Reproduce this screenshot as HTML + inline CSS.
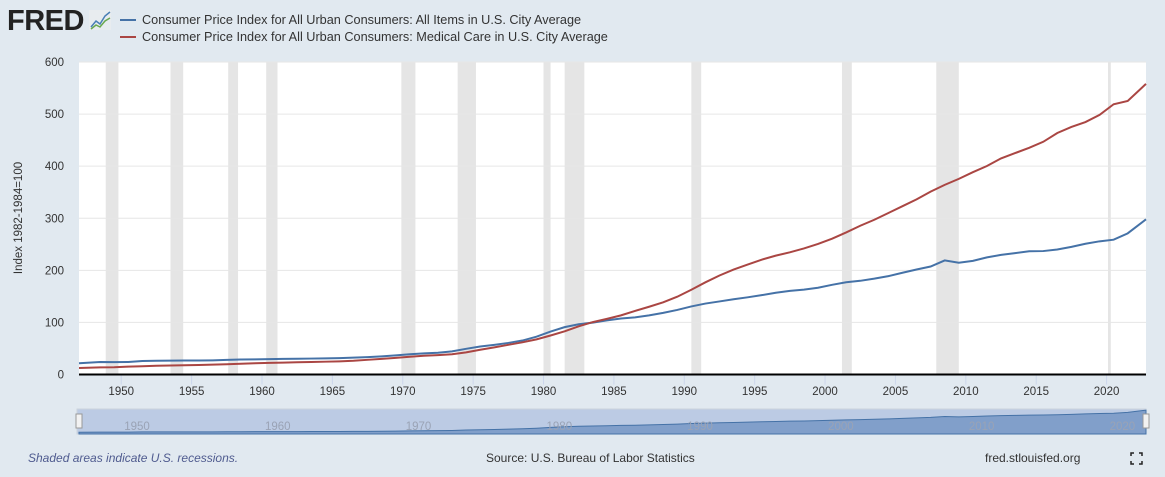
<!DOCTYPE html>
<html><head><meta charset="utf-8">
<style>
body{margin:0;width:1165px;height:477px;background:#e1e9f0;font-family:"Liberation Sans",sans-serif;overflow:hidden}
svg{position:absolute;left:0;top:0}
</style></head><body>
<svg width="1165" height="477">
<g>
<text x="7" y="30" font-size="29" font-weight="bold" fill="#222" letter-spacing="-0.5">FRED</text>
<rect x="89" y="10" width="22" height="20" fill="#e8ecef"/>
<polyline points="91,27 96,21 100,24 105,16 110,12" fill="none" stroke="#4a7fb5" stroke-width="1.5"/>
<polyline points="91,29 96,25 100,27 105,21 110,18" fill="none" stroke="#6aa84f" stroke-width="1.5"/>
</g>
<g>
<line x1="120" y1="20" x2="136" y2="20" stroke="#4572a7" stroke-width="2"/>
<text x="142" y="24" font-size="12.7" fill="#333">Consumer Price Index for All Urban Consumers: All Items in U.S. City Average</text>
<line x1="120" y1="37" x2="136" y2="37" stroke="#aa4643" stroke-width="2"/>
<text x="142" y="41" font-size="12.7" fill="#333">Consumer Price Index for All Urban Consumers: Medical Care in U.S. City Average</text>
</g>
<rect x="79" y="62" width="1067" height="313" fill="#fff"/>
<g id="rec"></g><g id="grid"></g><g id="series"></g><g id="xaxis"></g><g id="yaxis"></g><g id="nav"></g>
<text transform="translate(22,218) rotate(-90)" text-anchor="middle" font-size="11.5" fill="#333">Index 1982-1984=100</text>
<text x="28" y="462" font-size="12" font-style="italic" fill="#4f5b8f">Shaded areas indicate U.S. recessions.</text>
<text x="486" y="462" font-size="12" fill="#333">Source: U.S. Bureau of Labor Statistics</text>
<text x="985" y="462" font-size="12" fill="#333">fred.stlouisfed.org</text>
<g stroke="#222" stroke-width="1.5" fill="none">
<path d="M1131,456 v-3 h3 M1139,453 h3 v3 M1142,461 v3 h-3 M1134,464 h-3 v-3"/>
</g>
</svg>
<script>
const years=[1947,1948.5,1949.5,1950.5,1951.5,1952.5,1953.5,1954.5,1955.5,1956.5,1957.5,1958.5,1959.5,1960.5,1961.5,1962.5,1963.5,1964.5,1965.5,1966.5,1967.5,1968.5,1969.5,1970.5,1971.5,1972.5,1973.5,1974.5,1975.5,1976.5,1977.5,1978.5,1979.5,1980.5,1981.5,1982.5,1983.5,1984.5,1985.5,1986.5,1987.5,1988.5,1989.5,1990.5,1991.5,1992.5,1993.5,1994.5,1995.5,1996.5,1997.5,1998.5,1999.5,2000.5,2001.5,2002.5,2003.5,2004.5,2005.5,2006.5,2007.5,2008.5,2009.5,2010.5,2011.5,2012.5,2013.5,2014.5,2015.5,2016.5,2017.5,2018.5,2019.5,2020.5,2021.5,2022.8];
const allItems=[21.5,24.0,23.8,24.1,26.0,26.5,26.7,26.9,26.8,27.2,28.1,28.9,29.1,29.6,29.9,30.2,30.6,31.0,31.5,32.4,33.4,34.8,36.7,38.8,40.5,41.8,44.4,49.3,53.8,56.9,60.6,65.2,72.6,82.4,90.9,96.5,99.6,103.9,107.6,109.6,113.6,118.3,124.0,130.7,136.2,140.3,144.5,148.2,152.4,156.9,160.5,163.0,166.6,172.2,177.1,179.9,184.0,188.9,195.3,201.6,207.3,219.0,214.5,218.1,224.9,229.6,233.0,236.7,237.0,240.0,245.1,251.1,255.7,258.8,271.0,298.0];
const medical=[12.5,13.6,14.0,15.1,15.9,16.7,17.3,17.8,18.2,18.9,19.7,20.6,21.5,22.3,22.9,23.5,24.1,24.6,25.2,26.3,28.2,29.9,31.9,34.0,36.1,37.3,38.8,42.4,47.5,52.0,57.0,61.8,67.5,74.9,82.9,92.5,100.6,106.8,113.5,122.0,130.1,138.6,149.3,162.8,177.0,190.1,201.4,211.0,220.5,228.2,234.6,242.1,250.6,260.8,272.8,285.6,297.1,310.1,323.2,336.2,351.1,364.1,375.6,388.4,400.3,414.9,425.1,435.3,446.8,463.7,475.3,484.7,498.4,518.9,525.2,558.0];
const recStart=[1948.9,1953.5,1957.6,1960.3,1969.9,1973.9,1980.0,1981.5,1990.5,2001.2,2007.9,2020.1];
const recEnd=[1949.8,1954.4,1958.3,1961.1,1970.9,1975.2,1980.5,1982.9,1991.2,2001.9,2009.5,2020.3];
const yTicks=[0,100,200,300,400,500,600];
const xTicks=[1950,1955,1960,1965,1970,1975,1980,1985,1990,1995,2000,2005,2010,2015,2020];
const navTicks=[1950,1960,1970,1980,1990,2000,2010,2020];
const NS="http://www.w3.org/2000/svg";
const X0=1947,X1=2022.8,L=79,R=1146,T=62,B=374.5;
const x=v=>L+(v-X0)/(X1-X0)*(R-L);
const y=v=>B-v/600*(B-T);
const ny=v=>434-v/300*24;
function mk(tag,attrs,parent){const e=document.createElementNS(NS,tag);for(const k in attrs)e.setAttribute(k,attrs[k]);parent.appendChild(e);return e;}
const rec=document.getElementById('rec');
recStart.forEach((s,i)=>{const r=mk('rect',{x:x(s),y:T,width:x(recEnd[i])-x(s),height:B-T,fill:'#e5e5e5'},rec);

});
const grid=document.getElementById('grid'),ya=document.getElementById('yaxis');
yTicks.forEach(t=>{if(t>0){const g=mk('line',{x1:L,x2:R,y1:y(t),y2:y(t),stroke:'#e6e6e6'},grid);

}
const tx=mk('text',{x:64,y:y(t)+4,'text-anchor':'end','font-size':11.5,fill:'#333'},ya);tx.textContent=t;

});
const xa=document.getElementById('xaxis');
const axl=mk('line',{x1:L,x2:R,y1:B,y2:B,stroke:'#000','stroke-width':2},xa);


xTicks.forEach(t=>{mk('line',{x1:x(t),x2:x(t),y1:B+1,y2:B+10,stroke:'#ccd6eb'},xa);
const tx=mk('text',{x:x(t),y:395,'text-anchor':'middle','font-size':11.5,fill:'#333'},xa);tx.textContent=t;

});
const ser=document.getElementById('series');
const p1=mk('polyline',{points:years.map((t,i)=>x(t)+','+y(allItems[i])).join(' '),fill:'none',stroke:'#4572a7','stroke-width':2},ser);


const p2=mk('polyline',{points:years.map((t,i)=>x(t)+','+y(medical[i])).join(' '),fill:'none',stroke:'#aa4643','stroke-width':2},ser);


const nav=document.getElementById('nav');
const nb=mk('rect',{x:L-2,y:409,width:R-L+2,height:25,fill:'#bccbe4',stroke:'#ccd3dd'},nav);


const na=mk('path',{d:'M'+x(years[0])+',434 '+years.map((t,i)=>'L'+x(t)+','+ny(allItems[i])).join(' ')+' L'+x(X1)+',434 Z',fill:'#819fca',stroke:'#4572a7','stroke-width':1},nav);


navTicks.forEach(t=>{const tx=mk('text',{x:x(t)+3,y:430,'font-size':11.5,fill:'#9aa3b5'},nav);tx.textContent=t;

});
[L-3,R-3].forEach(hx=>{const h=mk('rect',{x:hx,y:414,width:6,height:14,fill:'#f2f2f2',stroke:'#999'},nav);

});
</script>
</body></html>
